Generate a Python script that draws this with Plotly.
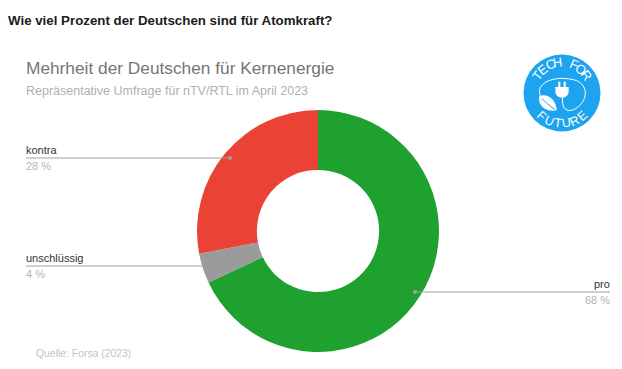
import math
import plotly.graph_objects as go

W, H = 622, 369

categories = ["pro", "unschlüssig", "kontra"]
values = [68, 4, 28]
colors = ["#1fa12f", "#9b9b9b", "#ea4335"]
percent_labels = ["68 %", "4 %", "28 %"]

page_title = "Wie viel Prozent der Deutschen sind für Atomkraft?"
chart_title = "Mehrheit der Deutschen für Kernenergie"
chart_subtitle = "Repräsentative Umfrage für nTV/RTL im April 2023"
source = "Quelle: Forsa (2023)"


def px(x):
    return x / W


def py(y):
    return 1 - y / H


def path(points):
    out = []
    for cmd, *coords in points:
        vals = []
        for i in range(0, len(coords), 2):
            vals.append(f"{px(coords[i]):.5f},{py(coords[i + 1]):.5f}")
        out.append(cmd + " ".join(vals))
    return " ".join(out)


FONT = "Liberation Sans"
fig = go.Figure(
    go.Pie(
        labels=categories,
        values=values,
        hole=0.505,
        sort=False,
        direction="clockwise",
        rotation=0,
        textinfo="none",
        marker=dict(colors=colors, line=dict(width=0)),
        domain=dict(x=[px(197), px(439)], y=[py(352), py(110)]),
        showlegend=False,
    )
)


def text(x, y, s, size, color, anchor="left", weight="normal", angle=0):
    fig.add_annotation(
        x=px(x), y=py(y), xref="paper", yref="paper", text=s, showarrow=False,
        xanchor=anchor, yanchor="middle", textangle=angle, borderpad=0, borderwidth=0,
        font=dict(family=FONT, size=size, color=color, weight=weight),
    )


text(7.5, 21, page_title, 13.3, "#1c1c1c", weight="bold")
text(26, 68, chart_title, 17.3, "#757575")
text(26, 91, chart_subtitle, 12.5, "#b0b0b0")
text(36, 353, source, 10.4, "#c4c4c4")

# Leader labels
leaders = [
    (0, 415, 610, 292, 415, "right", 610),
    (1, 26, 207, 266, None, "left", 26),
    (2, 26, 230, 158, 230, "left", 26),
]
for i, x0, x1, y, dot, anchor, tx in leaders:
    fig.add_shape(type="line", xref="paper", yref="paper", x0=px(x0), x1=px(x1), y0=py(y), y1=py(y),
                  line=dict(color="#a0a0a0", width=1.2), layer="above")
    if dot is not None:
        fig.add_shape(type="circle", xref="paper", yref="paper", x0=px(dot - 2), x1=px(dot + 2),
                      y0=py(y - 2), y1=py(y + 2), fillcolor="#a0a0a0", line=dict(width=0), layer="above")
    text(tx, y - 8, categories[i], 11, "#333333", anchor)
    text(tx, y + 8, percent_labels[i], 11, "#b5b5b5", anchor)

# Logo
LX, LY, LR = 562, 93, 38.5
BLUE = "#1ea3ee"
fig.add_shape(type="circle", xref="paper", yref="paper", x0=px(LX - LR), x1=px(LX + LR),
              y0=py(LY - LR), y1=py(LY + LR), fillcolor=BLUE, line=dict(width=0), layer="above")

top_letters = "TECH FOR"
for i, ch in enumerate(top_letters):
    a = -54 + i * 108 / (len(top_letters) - 1)
    r = math.radians(a)
    if ch != " ":
        fig.add_annotation(x=px(LX + 30.5 * math.sin(r)), y=py(LY - 30.5 * math.cos(r)), xref="paper", yref="paper",
                           text=ch, showarrow=False, textangle=a, xanchor="center", yanchor="middle",
                           font=dict(family=FONT, size=13, color="white"))
bottom_letters = "FUTURE"
for i, ch in enumerate(bottom_letters):
    a = -42 + i * 84 / (len(bottom_letters) - 1)
    r = math.radians(a)
    fig.add_annotation(x=px(LX + 30.5 * math.sin(r)), y=py(LY + 30.5 * math.cos(r)), xref="paper", yref="paper",
                       text=ch, showarrow=False, textangle=-a, xanchor="center", yanchor="middle",
                       font=dict(family=FONT, size=12.5, color="white"))


def z(x, y):
    return 500 + x / 3, 40 + y / 3


def zpath(cmds):
    res = []
    for cmd, *c in cmds:
        pts = []
        for i in range(0, len(c), 2):
            pts.extend(z(c[i], c[i + 1]))
        res.append((cmd, *pts))
    return path(res) if res else ""


# cord
fig.add_shape(type="path", xref="paper", yref="paper", layer="above",
              path=zpath([("M", 187, 172), ("L", 188, 190), ("C", 190, 215, 215, 218, 235, 200),
                          ("C", 265, 175, 262, 135, 230, 122), ("C", 195, 110, 135, 112, 120, 145),
                          ("C", 117, 155, 118, 160, 122, 170)]),
              line=dict(color="white", width=1), fillcolor="rgba(0,0,0,0)")
# plug
fig.add_shape(type="path", xref="paper", yref="paper", layer="above",
              path=zpath([("M", 166, 141), ("L", 206, 141), ("L", 206, 155), ("C", 204, 168, 196, 172, 186, 173),
                          ("C", 176, 172, 168, 168, 166, 155), ("Z",)]),
              fillcolor="white", line=dict(width=0))
for x0, x1 in ((175, 181), (191, 197)):
    fig.add_shape(type="path", xref="paper", yref="paper", layer="above",
                  path=zpath([("M", x0, 125), ("L", x1, 125), ("L", x1, 141), ("L", x0, 141), ("Z",)]),
                  fillcolor="white", line=dict(width=0))
# leaf
fig.add_shape(type="path", xref="paper", yref="paper", layer="above",
              path=zpath([("M", 118, 168), ("C", 140, 160, 168, 175, 170, 211),
                          ("C", 140, 216, 112, 200, 118, 168), ("Z",)]),
              fillcolor="white", line=dict(width=0))
fig.add_shape(type="path", xref="paper", yref="paper", layer="above",
              path=zpath([("M", 125, 175), ("C", 135, 185, 150, 198, 165, 209)]),
              line=dict(color=BLUE, width=1), fillcolor="rgba(0,0,0,0)")

fig.update_layout(
    width=W, height=H,
    margin=dict(l=0, r=0, t=0, b=0),
    paper_bgcolor="white", plot_bgcolor="white",
    font=dict(family=FONT),
)
fig.write_html("out.html", config=dict(displayModeBar=False),
               post_script="document.body.style.margin='0';document.documentElement.style.overflow='hidden';")
